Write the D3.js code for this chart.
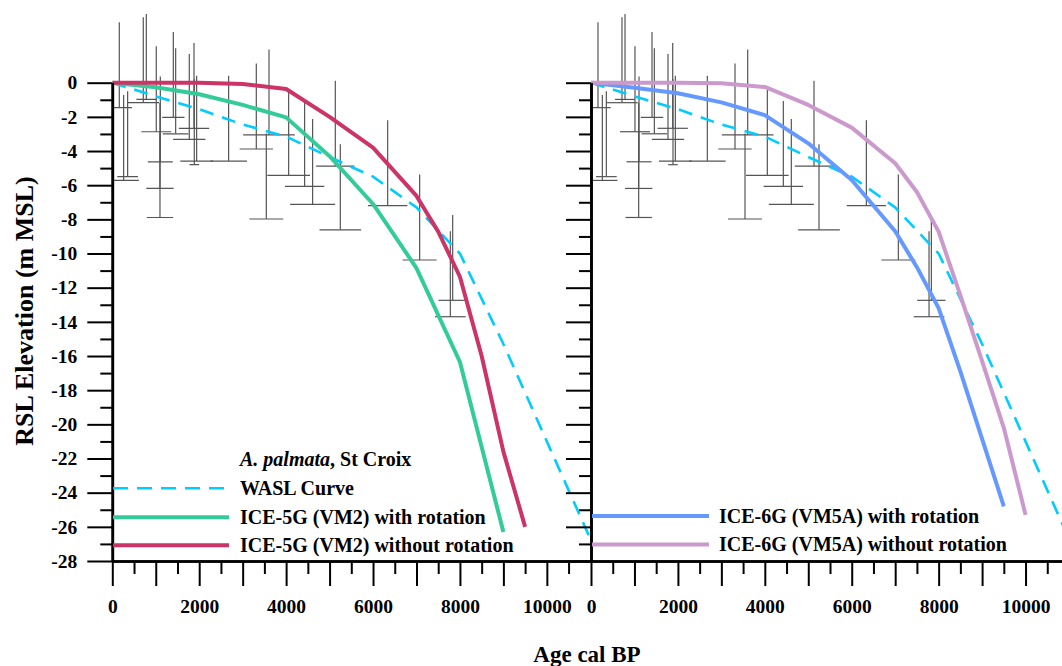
<!DOCTYPE html>
<html>
<head>
<meta charset="utf-8">
<script src="https://cdn.jsdelivr.net/npm/d3@7"></script>
<style>
  html, body { margin: 0; padding: 0; background: #fff; }
  svg { display: block; font-family: "Liberation Serif", "Times New Roman", serif; font-weight: bold; }
</style>
</head>
<body>
<svg id="chart" width="1062" height="666"></svg>
<script>
// ---- Data ----
// A. palmata samples, St Croix: age (cal BP), elevation (m MSL), age half-uncertainty (yr)
const sampleAge  = [161, 261, 353, 713, 783, 1012, 1105, 1097, 1097, 1404, 1458, 1772, 1880, 1887, 1941, 2677, 3314, 3606, 3544, 4058, 4426, 4610, 5132, 5247, 6337, 7073, 7833, 7779];
const sampleElev = [-1.46, -5.72, -5.50, -1.17, -0.98, -2.87, -4.63, -6.19, -7.89, -2.03, -2.99, -3.32, -2.67, -4.80, -4.59, -4.59, -3.88, -3.06, -7.98, -5.42, -6.07, -7.12, -4.88, -8.61, -7.20, -10.38, -12.74, -13.70];
const sampleAgeErr = [292, 349, 238, 364, 230, 345, 288, 315, 303, 257, 295, 372, 349, 110, 376, 422, 384, 595, 391, 491, 453, 518, 441, 479, 453, 391, 326, 353];
const habitatRange = 5; // m above sample elevation

// WASL curve
const waslAge  = [0, 1000, 2000, 3000, 4000, 5000, 6000, 7000, 8000, 9000, 10000, 11000];
const waslElev = [0, -0.8, -1.55, -2.45, -3.15, -4.35, -5.5, -7.3, -10.0, -15.3, -21.0, -26.7];

// ICE-5G (VM2)
const ice5gRotAge  = [0, 1000, 2000, 3000, 4000, 5000, 6000, 7000, 8000, 9000];
const ice5gRotElev = [0, -0.27, -0.68, -1.3, -2.03, -4.3, -7.1, -10.85, -16.35, -26.3];
const ice5gNoRotAge  = [0, 1000, 2000, 3000, 4000, 5000, 6000, 7000, 7500, 8000, 8500, 9000, 9500];
const ice5gNoRotElev = [0, 0, 0, -0.08, -0.37, -2.0, -3.8, -6.63, -8.72, -11.36, -16.0, -21.6, -26.0];

// ICE-6G (VM5A)
const ice6gRotAge  = [0, 1000, 2000, 3000, 4000, 5000, 6000, 7000, 7500, 8000, 8500, 9000, 9500];
const ice6gRotElev = [0, -0.3, -0.62, -1.15, -1.9, -3.55, -5.7, -8.7, -10.8, -13.2, -16.9, -20.85, -24.8];
const ice6gNoRotAge  = [0, 1000, 2000, 3000, 4000, 5000, 6000, 7000, 7500, 8000, 8500, 9000, 9500, 10000];
const ice6gNoRotElev = [0, 0, 0, -0.03, -0.25, -1.3, -2.63, -4.72, -6.4, -8.72, -12.45, -16.3, -20.2, -25.3];

// Axis ticks
const yMajorTicks = d3.range(0, -29, -2);
const yMinorTicks = d3.range(-1, -28, -2);
const xMajorTicks = d3.range(0, 11001, 1000);
const xMinorTicks = d3.range(500, 11000, 1000);

// Legend labels
const legendLeft = ["WASL Curve", "ICE-5G (VM2) with rotation", "ICE-5G (VM2) without rotation"];
const legendRight = ["ICE-6G (VM5A) with rotation", "ICE-6G (VM5A) without rotation"];

// ---- Styles ----
const C_WASL = "#00CCFF", C_5R = "#33CC99", C_5N = "#CC3366", C_6R = "#6699FF", C_6N = "#CC99CC";

const svg = d3.select("#chart");
const xL = d3.scaleLinear().domain([0, 11000]).range([112.3, 590.3]);
const xR = d3.scaleLinear().domain([0, 11000]).range([591, 1069]);
const y = d3.scaleLinear().domain([0, -28]).range([82.7, 561]);

const samples = sampleAge.map((a, i) => ({age: a, elev: sampleElev[i], err: sampleAgeErr[i]}));
const zip = (xs, ys) => xs.map((v, i) => [v, ys[i]]);

const defs = svg.append("defs");
defs.append("clipPath").attr("id", "clipL").append("rect")
  .attr("x", xL(0)).attr("y", 0).attr("width", xL(11000) - xL(0)).attr("height", y(-28));
defs.append("clipPath").attr("id", "clipR").append("rect")
  .attr("x", xR(0)).attr("y", 0).attr("width", xR(11000) - xR(0)).attr("height", y(-28));

function panel(x, clipId, curves) {
  const g = svg.append("g").attr("clip-path", `url(#${clipId})`);
  // error bars
  const bars = g.append("g").attr("stroke", "#555").attr("stroke-width", 1.2).attr("fill", "none");
  samples.forEach(s => {
    bars.append("line").attr("x1", x(s.age)).attr("x2", x(s.age))
      .attr("y1", y(s.elev)).attr("y2", y(s.elev + habitatRange));
    bars.append("line").attr("x1", x(s.age - s.err)).attr("x2", x(s.age + s.err))
      .attr("y1", y(s.elev)).attr("y2", y(s.elev));
  });
  const line = d3.line().x(d => x(d[0])).y(d => y(d[1]));
  curves.forEach(c => {
    g.append("path").datum(c.data).attr("d", line).attr("fill", "none")
      .attr("stroke", c.color).attr("stroke-width", c.width)
      .attr("stroke-dasharray", c.dash || null).attr("stroke-linejoin", "round");
  });
}

panel(xL, "clipL", [
  {data: zip(waslAge, waslElev), color: C_WASL, width: 2.6, dash: "14,9"},
  {data: zip(ice5gRotAge, ice5gRotElev), color: C_5R, width: 4},
  {data: zip(ice5gNoRotAge, ice5gNoRotElev), color: C_5N, width: 4}
]);
panel(xR, "clipR", [
  {data: zip(waslAge, waslElev), color: C_WASL, width: 2.6, dash: "14,9"},
  {data: zip(ice6gRotAge, ice6gRotElev), color: C_6R, width: 4},
  {data: zip(ice6gNoRotAge, ice6gNoRotElev), color: C_6N, width: 4}
]);

// ---- Axes ----
function styleAxis(g, domainW) {
  g.select(".domain").attr("stroke", "#000").attr("stroke-width", domainW);
  g.selectAll(".tick line").attr("stroke", "#000").attr("stroke-width", 2);
  g.selectAll(".tick text").attr("fill", "#000")
    .style("font-family", '"Liberation Serif", "Times New Roman", serif')
    .style("font-weight", "bold").style("font-size", "19.5px");
  g.attr("font-family", null).attr("font-size", null);
}

// Left Y axis
const yMinL = svg.append("g").attr("transform", `translate(${xL(0)},0)`)
  .call(d3.axisLeft(y).tickValues(yMinorTicks).tickSize(12).tickSizeOuter(0).tickFormat(""));
styleAxis(yMinL, 2.6);
const yMajL = svg.append("g").attr("transform", `translate(${xL(0)},0)`)
  .call(d3.axisLeft(y).tickValues(yMajorTicks).tickSize(25).tickSizeOuter(0).tickPadding(10).tickFormat(d3.format("d")));
styleAxis(yMajL, 2.6);
yMajL.selectAll(".tick text").text(d => d === 0 ? "0" : "-" + Math.abs(d));

// Right Y axis (no labels)
const yMinR = svg.append("g").attr("transform", `translate(${xR(0)},0)`)
  .call(d3.axisLeft(y).tickValues(yMinorTicks).tickSize(12).tickSizeOuter(0).tickFormat(""));
styleAxis(yMinR, 2.6);
const yMajR = svg.append("g").attr("transform", `translate(${xR(0)},0)`)
  .call(d3.axisLeft(y).tickValues(yMajorTicks).tickSize(25).tickSizeOuter(0).tickFormat(""));
styleAxis(yMajR, 2.6);

// X axes
[[xL, d3.range(0, 10001, 1000)], [xR, xMajorTicks]].forEach(([x, majors]) => {
  const gMin = svg.append("g").attr("transform", `translate(0,${y(-28)})`)
    .call(d3.axisBottom(x).tickValues(xMinorTicks).tickSize(13).tickSizeOuter(0).tickFormat(""));
  styleAxis(gMin, 2.6);
  const gMaj = svg.append("g").attr("transform", `translate(0,${y(-28)})`)
    .call(d3.axisBottom(x).tickValues(majors).tickSize(25).tickSizeOuter(0).tickPadding(13)
      .tickFormat(d => d % 2000 === 0 ? String(d) : ""));
  styleAxis(gMaj, 2.6);
});

// Axis titles
svg.append("text").attr("x", 587).attr("y", 662).attr("text-anchor", "middle")
  .style("font-size", "23px").text("Age cal BP");
svg.append("text").attr("transform", "translate(33,311) rotate(-90)").attr("text-anchor", "middle")
  .style("font-size", "26px").text("RSL Elevation (m MSL)");

// ---- Legends ----
const lg = svg.append("g").style("font-size", "20px");
const head = lg.append("text").attr("x", 240).attr("y", 466);
head.append("tspan").style("font-style", "italic").text("A. palmata");
head.append("tspan").text(", St Croix");

const leftStyles = [
  {color: C_WASL, width: 2.6, dash: "15,9"},
  {color: C_5R, width: 4},
  {color: C_5N, width: 4}
];
const rowY = [488.3, 517.3, 545.3];
legendLeft.forEach((label, i) => {
  lg.append("line").attr("x1", 113).attr("x2", 229).attr("y1", rowY[i]).attr("y2", rowY[i])
    .attr("stroke", leftStyles[i].color).attr("stroke-width", leftStyles[i].width)
    .attr("stroke-dasharray", leftStyles[i].dash || null);
  lg.append("text").attr("x", 240).attr("y", rowY[i] + 6.5).text(label);
});
const rightStyles = [{color: C_6R}, {color: C_6N}];
const rowYR = [516, 544.5];
legendRight.forEach((label, i) => {
  lg.append("line").attr("x1", 592).attr("x2", 709).attr("y1", rowYR[i]).attr("y2", rowYR[i])
    .attr("stroke", rightStyles[i].color).attr("stroke-width", 4);
  lg.append("text").attr("x", 719).attr("y", rowYR[i] + 6.5).text(label);
});
</script>
</body>
</html>
